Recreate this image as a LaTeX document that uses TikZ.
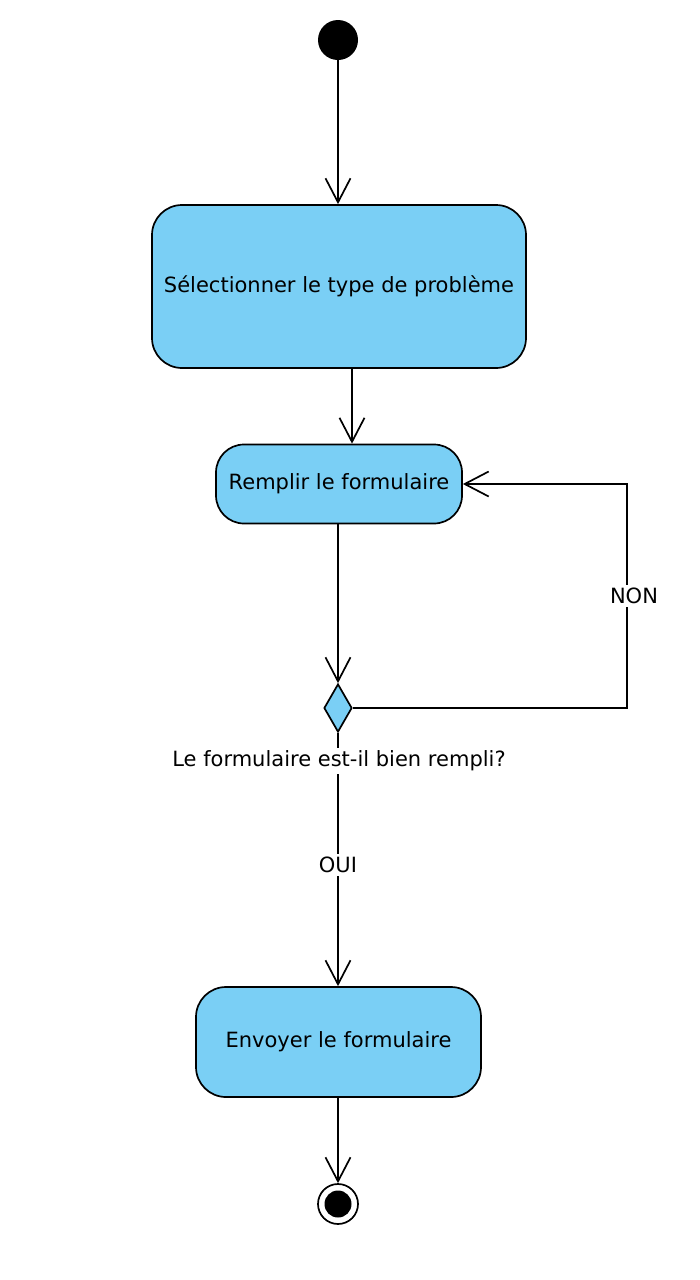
\documentclass[tikz,border=0pt]{standalone}
\usepackage{fontspec}
\setmainfont{DejaVu Sans}
\usetikzlibrary{arrows.meta,shapes.geometric}
\definecolor{actblue}{RGB}{122,207,245}
\tikzset{
  act/.style={draw=black, line width=1.7pt, fill=actblue, rounded corners=30pt, inner sep=0pt, font=\fontsize{21}{25}\selectfont},
  startnode/.style={circle, fill=black, minimum size=40pt, inner sep=0pt},
  endnode/.style={circle, draw=black, line width=1.7pt, fill=white, minimum size=40pt, inner sep=0pt},
  dec/.style={diamond, draw=black, line width=1.7pt, fill=actblue, minimum width=28pt, minimum height=48pt, inner sep=0pt},
  flow/.style={draw=black, line width=1.7pt, -{Straight Barb[length=24pt,width=25pt,line width=1.7pt]}},
  lbl/.style={fill=white, inner sep=3pt, font=\fontsize{21}{25}\selectfont}
}
\begin{document}
\begin{tikzpicture}[x=1pt,y=-1pt]
\useasboundingbox (0,0) rectangle (700,1280);
\fill[white] (0,0) rectangle (700,1280);
\node[startnode] (start) at (338,40) {};
\node[act, minimum width=374pt, minimum height=163pt] (a1) at (339,286.5) {Sélectionner le type de problème};
\node[act, minimum width=246pt, minimum height=79pt, rounded corners=28pt] (a2) at (339,484) {Remplir le formulaire};
\node[dec] (d) at (338,708) {};
\node[act, minimum width=285pt, minimum height=110pt] (a3) at (338.5,1042) {Envoyer le formulaire};
\node[endnode] (end) at (338,1204) {};
\fill[black] (end.center) circle (13.5pt);
\coordinate (c1) at (627,708);
\coordinate (c2) at (627,484);

\draw[flow] (start) -- (start |- a1.north);
\draw[flow] ([xshift=13pt]a1.south) -- ([xshift=13pt]a2.north);
\draw[flow] (d |- a2.south) -- (d.north);
\draw[flow] (d.east) -- (c1) -- (c2) -- (a2.east);
\draw[flow] (d.south) -- (d |- a3.north);
\draw[flow] (d |- a3.south) -- (end.north);

\node[lbl] (non) at (634,596) {NON};
\node[lbl] (q) at (339,761) {Le formulaire est-il bien rempli?};
\node[lbl] (oui) at (338,865) {OUI};
\end{tikzpicture}
\end{document}
